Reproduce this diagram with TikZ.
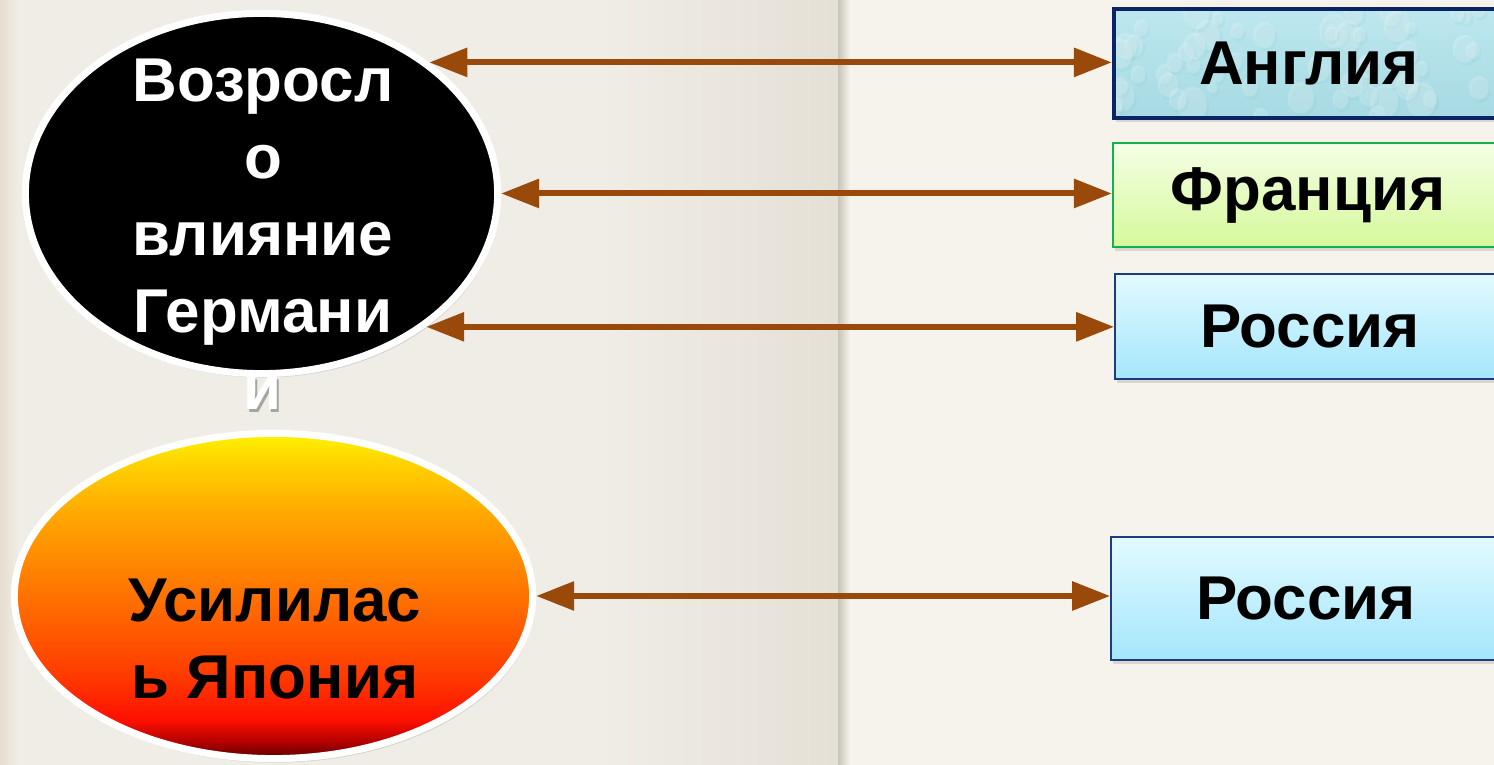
\documentclass[tikz,border=0pt]{standalone}
\usepackage{fontspec}
\setmainfont{Liberation Sans}
\usetikzlibrary{arrows.meta,shapes.geometric,shadows,calc}

\definecolor{paper}{HTML}{F0EDE6}
\definecolor{paperfold}{HTML}{E5E0D6}
\definecolor{paperright}{HTML}{F5F3EC}
\definecolor{paperedge}{HTML}{E6DDCF}
\definecolor{linkbrown}{HTML}{994A0A}
\definecolor{navyline}{HTML}{0B2466}
\definecolor{greenline}{HTML}{12B04E}
\definecolor{blueline}{HTML}{1E3C7C}
\definecolor{engtop}{HTML}{BDE7EE}
\definecolor{engbot}{HTML}{A6DAE3}
\definecolor{frtop}{HTML}{F4FFE6}
\definecolor{frbot}{HTML}{D6F89A}
\definecolor{rutop}{HTML}{E2FAFF}
\definecolor{rubot}{HTML}{A4E6FC}
\definecolor{jpA}{HTML}{5A0000}
\definecolor{jpB}{HTML}{B00000}
\definecolor{jpC}{HTML}{FF1000}
\definecolor{jpD}{HTML}{FF3C00}
\definecolor{jpE}{HTML}{FF7200}
\definecolor{jpF}{HTML}{FFA500}
\definecolor{jpG}{HTML}{FFD000}
\definecolor{jpH}{HTML}{FFF200}

\pgfdeclareverticalshading{japanfill}{100bp}{color(0bp)=(jpA); color(25bp)=(jpA);
  color(27.5bp)=(jpB); color(31bp)=(jpC); color(38bp)=(jpD); color(50bp)=(jpE);
  color(62bp)=(jpF); color(70bp)=(jpG); color(75bp)=(jpH); color(100bp)=(jpH)}

\tikzset{
  bigoval/.style={ellipse, draw=white, line width=0.07cm, inner sep=0pt,
    drop shadow={shadow xshift=0.02cm, shadow yshift=-0.04cm, opacity=0.25}},
  ovaltext/.style={inner sep=0pt, align=center,
    font=\fontsize{17.6pt}{21.9pt}\selectfont\bfseries},
  countrybox/.style={rectangle, inner sep=0pt, minimum width=3.9cm,
    font=\fontsize{17.6pt}{21.9pt}\selectfont\bfseries,
    drop shadow={shadow xshift=0.02cm, shadow yshift=-0.04cm, opacity=0.25}},
  drops/.style={path picture={
    \pgfmathsetseed{11}
    \foreach \i in {1,...,60}{
      \pgfmathsetmacro{\px}{400*rnd}
      \pgfmathsetmacro{\py}{112*rnd}
      \pgfmathsetmacro{\pr}{5+10*rnd}
      \fill[engbot!75!teal, opacity=0.12] ($(path picture bounding box.north west)+(\px+2,\py+3)$) ellipse ({\pr} and {1.2*\pr});
      \fill[white, opacity=0.2] ($(path picture bounding box.north west)+(\px,\py)$) ellipse ({\pr} and {1.2*\pr});
    }}},
  link/.style={draw=linkbrown, line width=0.06cm, <->,
    >={Triangle[length=0.38cm,width=0.28cm]}}
}

\begin{document}
\begin{tikzpicture}[x=0.01cm,y=-0.01cm]
    \useasboundingbox (0,0) rectangle (1494,765);
    \clip (0,0) rectangle (1494,765);
    \fill[paper] (0,0) rectangle (1494,765);
    \shade[left color=paperedge, right color=paper] (0,0) rectangle (18,765);
    \shade[left color=paper, right color=paperfold] (600,0) rectangle (838,765);
    \shade[left color=paperfold!88!black, right color=paperright] (838,0) rectangle (850,765);
    \fill[paperright] (850,0) rectangle (1494,765);

    \node[bigoval, fill=black, minimum width=4.72cm, minimum height=3.60cm] (germany) at (261.5,193.5) {};
    \node[ovaltext, text=black, opacity=0.3, anchor=north] (germanyshade) at (265,61) {Возросл\\о\\влияние\\Германи\\и};
    \node[ovaltext, text=white, anchor=north] (germanytext) at (263,58) {Возросл\\о\\влияние\\Германи\\и};

    \node[bigoval, shading=japanfill, minimum width=5.18cm, minimum height=3.25cm] (japan) at (273.5,596) {};
    \node[ovaltext, anchor=north] (japantext) at (275,578) {Усилилас\\ь Япония};

    \node[countrybox, draw=navyline, line width=0.04cm, top color=engtop, bottom color=engbot, drops,
      minimum height=1.09cm] (england) at (1309,63.5) {Англия};
    \node[countrybox, draw=greenline, line width=0.02cm, top color=frtop, bottom color=frbot,
      minimum height=1.04cm] (france) at (1308,195) {Франция};
    \node[countrybox, draw=blueline, line width=0.015cm, top color=rutop, bottom color=rubot,
      minimum height=1.05cm] (russia) at (1310,326.5) {Россия};
    \node[countrybox, draw=blueline, line width=0.015cm, top color=rutop, bottom color=rubot,
      minimum height=1.23cm] (russiab) at (1306,598.5) {Россия};

    \draw[link] (germany.38) -- (germany.38 -| england.west);
    \draw[link] (germany.east) -- (germany.east -| france.west);
    \draw[link] (germany.321) -- (germany.321 -| russia.west);
    \draw[link] (japan.east) -- (japan.east -| russiab.west);
\end{tikzpicture}
\end{document}
